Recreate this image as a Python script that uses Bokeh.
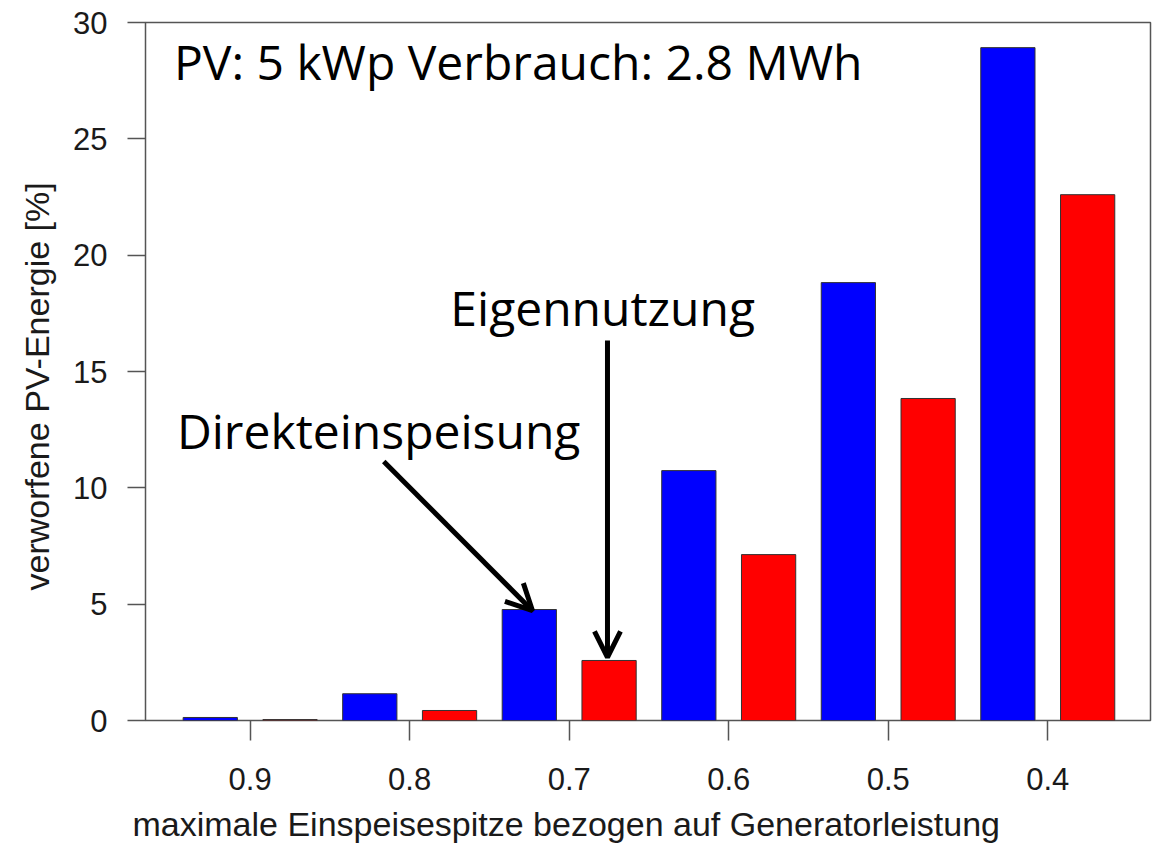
from bokeh.plotting import figure
from bokeh.models import Range1d, FixedTicker, Label, Arrow, OpenHead, ColumnDataSource, Title
from bokeh.embed import file_html
from bokeh.resources import INLINE

# data
thresholds = [0.9, 0.8, 0.7, 0.6, 0.5, 0.4]
direkt = [0.13, 1.15, 4.77, 10.74, 18.82, 28.92]      # blue: Direkteinspeisung
eigen = [0.04, 0.43, 2.58, 7.13, 13.84, 22.60]        # red: Eigennutzung
tick_labels = ["0.9", "0.8", "0.7", "0.6", "0.5", "0.4"]
y_ticks = [0, 5, 10, 15, 20, 25, 30]

OFF = 0.025
BW = 0.034

p = figure(width=1153, height=854, output_backend="svg", toolbar_location=None,
           x_range=Range1d(0.9656, 0.3356), y_range=Range1d(0, 30),
           min_border_left=143, min_border_right=3, min_border_top=22, min_border_bottom=134)
p.grid.visible = False
p.outline_line_color = "#555555"
p.outline_line_width = 1.5
p.background_fill_color = "white"
p.border_fill_color = "white"

src_b = ColumnDataSource(dict(x=[t + OFF for t in thresholds], top=direkt))
src_r = ColumnDataSource(dict(x=[t - OFF for t in thresholds], top=eigen))
p.vbar(x="x", top="top", bottom=0, width=BW, source=src_b,
       fill_color="#0000FF", line_color="#333333", line_width=1)
p.vbar(x="x", top="top", bottom=0, width=BW, source=src_r,
       fill_color="#FF0000", line_color="#333333", line_width=1)

AX_FONT = "Liberation Sans"
# x axis (ticks)
xa = p.xaxis[0]
xa.ticker = FixedTicker(ticks=thresholds)
xa.major_label_overrides = {t: l for t, l in zip(thresholds, tick_labels)}
xa.axis_line_color = None
xa.major_tick_out = 20
xa.major_tick_in = 0
xa.minor_tick_line_color = None
xa.major_tick_line_color = "#555555"
xa.major_tick_line_width = 1.5
xa.major_label_standoff = 27
xa.major_label_text_font = AX_FONT
xa.major_label_text_font_size = "31px"
xa.major_label_text_color = "#1a1a1a"

# y axis (ticks)
ya = p.yaxis[0]
ya.ticker = FixedTicker(ticks=y_ticks)
ya.axis_line_color = None
ya.major_tick_out = 18
ya.major_tick_in = 0
ya.minor_tick_line_color = None
ya.major_tick_line_color = "#555555"
ya.major_tick_line_width = 1.5
ya.major_label_standoff = 20
ya.major_label_text_font = AX_FONT
ya.major_label_text_font_size = "31px"
ya.major_label_text_color = "#1a1a1a"

# axis titles, off-centre like the original
p.add_layout(Title(text="maximale Einspeisespitze bezogen auf Generatorleistung",
                   align="left", offset=-13, standoff=20,
                   text_font=AX_FONT, text_font_size="34px", text_font_style="normal",
                   text_color="#1a1a1a"), "below")
p.add_layout(Title(text="verworfene PV-Energie [%]",
                   align="left", offset=130, standoff=30,
                   text_font=AX_FONT, text_font_size="34px", text_font_style="normal",
                   text_color="#1a1a1a"), "left")

ANN_FONT = "Open Sans"
ANN_SIZE = "48px"
p.add_layout(Label(x=0.9478, y=28.32, text="PV: 5 kWp Verbrauch: 2.8 MWh",
                   text_font=ANN_FONT, text_font_size=ANN_SIZE, text_color="black",
                   text_align="left", text_baseline="alphabetic"))
p.add_layout(Label(x=0.7745, y=17.74, text="Eigennutzung",
                   text_font=ANN_FONT, text_font_size=ANN_SIZE, text_color="black",
                   text_align="left", text_baseline="alphabetic"))
p.add_layout(Label(x=0.9459, y=12.45, text="Direkteinspeisung",
                   text_font=ANN_FONT, text_font_size=ANN_SIZE, text_color="black",
                   text_align="left", text_baseline="alphabetic"))

# arrows pointing at the 0.7 bars
p.add_layout(Arrow(end=OpenHead(size=26, line_width=5, line_color="black"),
                   x_start=0.81625, y_start=11.13,
                   x_end=thresholds[2] + OFF - 0.002, y_end=direkt[2] - 0.05,
                   line_width=5, line_color="black"))
p.add_layout(Arrow(end=OpenHead(size=26, line_width=5, line_color="black"),
                   x_start=thresholds[2] - OFF + 0.001, y_start=16.33,
                   x_end=thresholds[2] - OFF + 0.001, y_end=eigen[2] + 0.13,
                   line_width=5, line_color="black"))

open("out.html", "w").write(file_html(p, INLINE))
